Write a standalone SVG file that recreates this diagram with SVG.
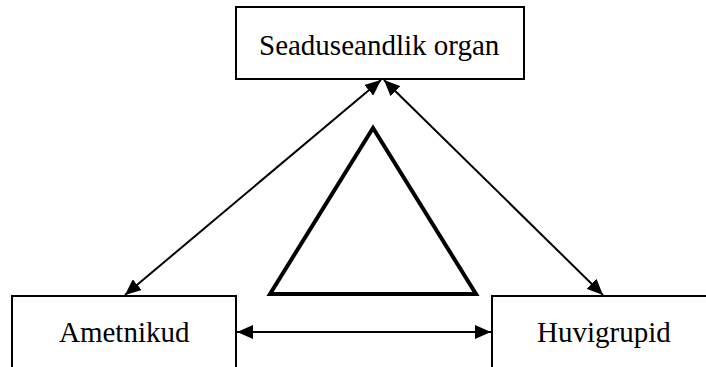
<svg xmlns="http://www.w3.org/2000/svg" width="706" height="367" viewBox="0 0 706 367">
  <style>
    .box { fill: #ffffff; stroke: #000000; stroke-width: 2; }
    .label { font-family: "Liberation Serif", "Times New Roman", serif; font-size: 29px; fill: #000000; }
    .link { stroke: #000000; stroke-width: 2; fill: none; marker-start: url(#head); marker-end: url(#head); }
    .tri { fill: none; stroke: #000000; stroke-width: 4; stroke-linejoin: miter; }
  </style>
  <defs>
    <marker id="head" viewBox="0 0 16 14" refX="16" refY="7" markerWidth="16" markerHeight="14" markerUnits="userSpaceOnUse" orient="auto-start-reverse">
      <path d="M0,0 L16,7 L0,14 Z" fill="#000000"/>
    </marker>
  </defs>

  <rect width="706" height="367" fill="#ffffff"/>

  <g id="node-seaduseandlik">
    <rect class="box" x="236" y="7" width="288" height="72"/>
    <text class="label" x="259" y="55">Seaduseandlik organ</text>
  </g>

  <g id="node-ametnikud">
    <rect class="box" x="12" y="296" width="224" height="100"/>
    <text class="label" x="59" y="342">Ametnikud</text>
  </g>

  <g id="node-huvigrupid">
    <rect class="box" x="492" y="296" width="240" height="100"/>
    <text class="label" x="537" y="342">Huvigrupid</text>
  </g>

  <g id="triangle">
    <polygon class="tri" points="373,128 270,294 476,294"/>
  </g>

  <g id="connectors">
    <line class="link" x1="125" y1="295" x2="381" y2="80"/>
    <line class="link" x1="603" y1="295" x2="384" y2="80"/>
    <line class="link" x1="237" y1="332" x2="491" y2="332"/>
  </g>
</svg>
